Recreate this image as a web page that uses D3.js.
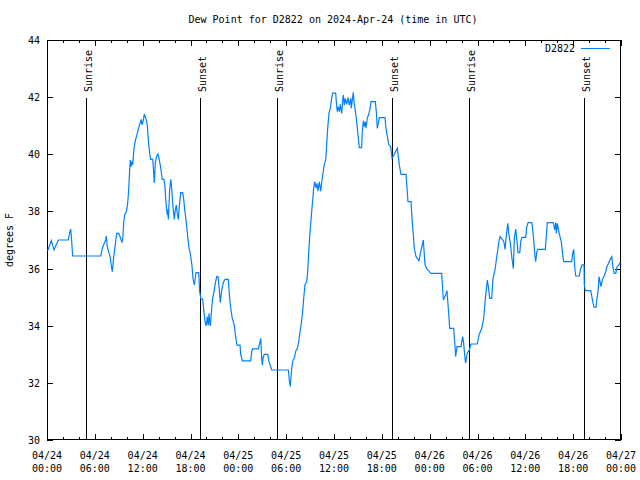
<!DOCTYPE html>
<html><head><meta charset="utf-8">
<script src="https://cdn.jsdelivr.net/npm/d3@7"></script>
<style>
body{margin:0;background:#fff;}
text{font-family:"DejaVu Sans Mono","Liberation Mono",monospace;font-size:10px;fill:#000;}
</style></head>
<body><svg id="c" width="640" height="480"></svg>
<script>
const title = "Dew Point for D2822 on 2024-Apr-24 (time in UTC)";
const seriesName = "D2822";
const yLabel = "degrees F";
const startUTC = Date.UTC(2024, 3, 24, 0, 0);
const endUTC = Date.UTC(2024, 3, 27, 0, 0);
const yTicks = [30, 32, 34, 36, 38, 40, 42, 44];
// hours since 2024-04-24 00:00 UTC
const hours = [0,0.13,0.54,0.69,0.88,1.09,1.29,1.42,2.67,2.85,2.97,3.05,3.22,6.74,6.90,7.06,7.36,7.44,7.56,7.78,7.90,8.07,8.19,8.37,8.53,8.66,8.74,8.99,9.16,9.41,9.53,9.62,9.75,9.95,10.12,10.25,10.37,10.45,10.54,10.66,10.75,10.91,11.08,11.33,11.54,11.67,11.83,11.92,12.04,12.13,12.20,12.42,12.58,12.71,12.88,13.01,13.26,13.33,13.46,13.58,13.76,13.92,14.05,14.17,14.30,14.46,14.67,14.80,14.89,15.01,15.09,15.14,15.22,15.39,15.52,15.64,15.72,15.84,15.97,16.09,16.22,16.34,16.47,16.56,16.68,16.77,17.02,17.15,17.27,17.40,17.52,17.69,17.81,17.98,18.19,18.31,18.48,18.57,18.69,19.03,19.15,19.32,19.53,19.66,19.82,19.98,20.11,20.23,20.32,20.48,20.66,20.78,20.95,21.11,21.29,21.45,21.57,21.74,21.86,21.99,22.16,22.33,22.74,22.92,23.08,23.24,23.49,23.71,23.83,24.21,24.30,24.50,25.55,25.68,25.80,26.51,26.72,26.81,26.93,27.01,27.10,27.26,27.69,27.85,28.19,30.27,30.39,30.52,30.70,30.86,31.02,31.20,31.40,31.57,31.74,31.90,32.07,32.20,32.36,32.57,32.70,32.83,33.03,33.20,33.33,33.45,33.58,33.74,33.87,33.99,34.16,34.33,34.46,34.62,34.78,34.96,35.08,35.21,35.37,35.54,35.71,35.84,36.21,36.29,36.41,36.54,36.67,36.79,36.97,37.09,37.17,37.29,37.42,37.59,37.76,37.92,38.10,38.17,38.42,38.51,38.80,38.97,39.17,39.47,39.55,39.68,39.80,39.93,40.01,40.18,40.35,40.52,40.64,41.18,41.31,41.43,41.56,41.68,42.40,42.52,42.69,42.86,43.11,43.28,43.44,43.69,43.94,44.07,44.19,44.40,45.03,45.16,45.28,45.66,45.78,45.95,46.07,46.29,46.66,46.88,47.20,47.42,47.63,47.95,48.17,49.51,49.71,50.01,50.17,50.26,50.43,50.51,51.01,51.18,51.26,51.43,51.93,52.14,52.26,52.39,52.51,52.71,52.96,53.18,53.97,54.19,54.53,54.78,54.98,55.23,55.36,55.53,55.78,55.95,56.20,56.36,56.54,56.70,56.83,57.12,57.30,57.46,57.62,57.80,57.92,58.12,58.34,58.50,58.62,58.80,58.96,59.08,59.30,59.42,59.58,60.05,60.17,60.34,60.80,60.93,61.05,61.18,61.30,61.43,61.55,62.51,62.63,62.76,63.51,63.69,63.81,63.89,64.01,64.26,64.51,64.69,64.81,65.82,65.94,66.07,66.14,66.23,66.32,66.77,66.90,67.11,67.36,67.40,67.52,68.20,68.33,68.49,68.62,68.87,68.99,69.15,69.24,69.49,69.66,69.87,70.08,70.25,70.46,70.63,70.84,70.97,71.14,71.35,71.47,71.72,71.89];
const dewF = [36.65,36.65,36.98,36.83,36.65,36.80,36.91,37.00,37.00,37.27,37.38,37.14,36.44,36.44,36.67,36.80,37.00,37.14,36.77,36.53,36.44,36.09,35.89,36.42,36.77,37.06,37.23,37.23,37.12,36.91,37.14,37.62,37.88,37.99,38.28,38.77,39.45,39.80,39.57,39.74,39.63,40.21,40.48,40.73,40.97,41.08,41.22,41.03,41.14,41.26,41.41,41.24,41.03,40.50,40.03,39.82,39.82,39.57,39.00,39.68,39.94,40.01,39.86,39.68,39.45,39.12,39.12,38.87,38.42,38.07,37.88,38.07,37.72,38.77,39.12,38.81,38.46,38.05,37.72,38.05,38.22,37.93,37.72,38.05,38.42,38.66,38.66,38.42,38.07,37.79,37.47,37.02,36.74,36.51,36.09,35.66,35.43,35.60,35.86,35.86,35.19,34.93,34.93,34.55,34.14,33.99,34.32,34.02,34.43,33.99,34.61,34.96,35.19,35.48,35.72,35.72,35.39,34.81,35.13,35.37,35.54,35.62,35.62,34.93,34.55,34.26,34.02,33.52,33.32,33.32,33.00,32.77,32.77,33.09,33.19,33.19,33.44,33.56,32.86,32.62,32.87,33.00,33.00,32.74,32.45,32.45,32.10,31.87,32.53,32.80,32.86,33.11,33.21,33.44,33.79,34.08,34.49,34.96,35.43,35.54,35.89,36.59,37.41,37.99,38.40,38.81,39.04,38.82,38.98,38.71,39.04,38.71,39.04,39.33,39.65,39.80,40.33,40.91,41.43,41.63,41.96,42.14,42.14,41.84,41.49,41.67,41.49,41.75,41.43,41.90,42.07,41.72,41.96,41.75,41.98,41.72,41.96,41.61,42.17,41.84,41.26,40.79,40.23,40.23,40.79,41.17,40.97,41.14,40.91,41.26,41.40,41.59,41.84,41.84,41.49,40.91,41.08,41.28,41.28,40.91,40.62,40.35,40.27,39.86,39.92,40.09,40.21,39.92,39.63,39.30,39.30,38.81,38.34,38.34,37.76,37.20,36.71,36.42,36.27,36.59,37.00,36.13,36.00,35.89,35.83,35.83,34.90,35.08,35.23,34.90,34.26,33.91,33.91,33.27,32.92,33.27,33.27,33.62,33.40,32.98,32.69,33.04,33.15,33.36,33.36,33.67,33.91,34.26,34.93,35.60,35.37,34.96,34.96,35.66,35.95,36.30,36.65,36.98,37.12,37.02,36.94,36.67,37.17,37.58,37.23,36.88,36.32,36.00,37.06,37.38,36.94,36.56,36.56,36.94,37.09,37.09,37.44,37.61,37.61,37.35,37.00,36.53,36.24,36.56,36.67,36.67,37.12,37.61,37.61,37.35,37.61,37.23,37.58,37.21,36.94,36.48,36.24,36.24,36.53,36.67,36.30,35.95,35.74,35.74,35.95,36.13,36.13,35.43,35.23,35.23,35.04,34.79,34.65,34.65,34.96,35.27,35.72,35.37,35.62,35.72,35.89,36.07,36.20,36.32,36.42,36.09,35.83,35.83,36.04,36.13,36.20];
const sunTimes = ["2024-04-24T04:53Z","2024-04-24T19:14Z","2024-04-25T04:53Z","2024-04-25T19:19Z","2024-04-26T04:58Z","2024-04-26T19:24Z"];
const sunLabels = ["Sunrise","Sunset","Sunrise","Sunset","Sunrise","Sunset"];

const svg = d3.select("#c");
const L = 47, R = 621, T = 40, B = 440;
const x = d3.scaleUtc().domain([new Date(startUTC), new Date(endUTC)]).range([L, R]);
const y = d3.scaleLinear().domain([30, 44]).range([B, T]);
const data = hours.map((h, i) => ({t: new Date(startUTC + h * 3600000), v: dewF[i]}));

// Title
svg.append("text").attr("x", 333).attr("y", 23).attr("text-anchor", "middle").text(title);
// Y label
svg.append("text").attr("transform", "translate(13,240) rotate(-90)").attr("text-anchor", "middle").text(yLabel);

const g = svg.append("g").attr("shape-rendering", "crispEdges");
// Y ticks (inward, mirrored)
yTicks.forEach(v => {
  const yy = Math.round(y(v)) + 0.5;
  g.append("line").attr("x1", L).attr("x2", L + 6).attr("y1", yy).attr("y2", yy).attr("stroke", "#000");
  g.append("line").attr("x1", R - 6).attr("x2", R).attr("y1", yy).attr("y2", yy).attr("stroke", "#000");
  svg.append("text").attr("x", 40).attr("y", y(v) + 4).attr("text-anchor", "end").text(v);
});
// X ticks
const minor = d3.utcHour.every(2).range(new Date(startUTC), new Date(endUTC + 1));
minor.forEach(d => {
  const isMajor = d.getUTCHours() % 6 === 0;
  const len = isMajor ? 6 : 3;
  const xx = Math.round(x(d)) + 0.5;
  g.append("line").attr("x1", xx).attr("x2", xx).attr("y1", B).attr("y2", B - len).attr("stroke", "#000");
  g.append("line").attr("x1", xx).attr("x2", xx).attr("y1", T).attr("y2", T + len).attr("stroke", "#000");
  if (isMajor) {
    svg.append("text").attr("x", x(d)).attr("y", 459).attr("text-anchor", "middle").text(d3.utcFormat("%m/%d")(d));
    svg.append("text").attr("x", x(d)).attr("y", 472).attr("text-anchor", "middle").text(d3.utcFormat("%H:%M")(d));
  }
});

// Sunrise/sunset lines
sunTimes.forEach((s, i) => {
  const d = new Date(s);
  const xx = Math.round(x(d)) + 0.5;
  g.append("line").attr("x1", xx).attr("x2", xx).attr("y1", 98).attr("y2", B).attr("stroke", "#000");
  svg.append("text").attr("transform", `translate(${xx + 5},92) rotate(-90)`).attr("text-anchor", "start").text(sunLabels[i]);
});

// Data line
svg.append("path").datum(data)
  .attr("fill", "none").attr("stroke", "#0080ff").attr("stroke-width", 1.2)
  .attr("d", d3.line().x(d => x(d.t)).y(d => y(d.v)));

// Frame
g.append("rect").attr("x", L + 0.5).attr("y", T + 0.5).attr("width", R - L - 1).attr("height", B - T - 1)
  .attr("fill", "none").attr("stroke", "#000");

// Legend
svg.append("text").attr("x", 575).attr("y", 52).attr("text-anchor", "end").text(seriesName);
g.append("line").attr("x1", 581).attr("x2", 610).attr("y1", 48.5).attr("y2", 48.5).attr("stroke", "#0080ff");
</script></body></html>
